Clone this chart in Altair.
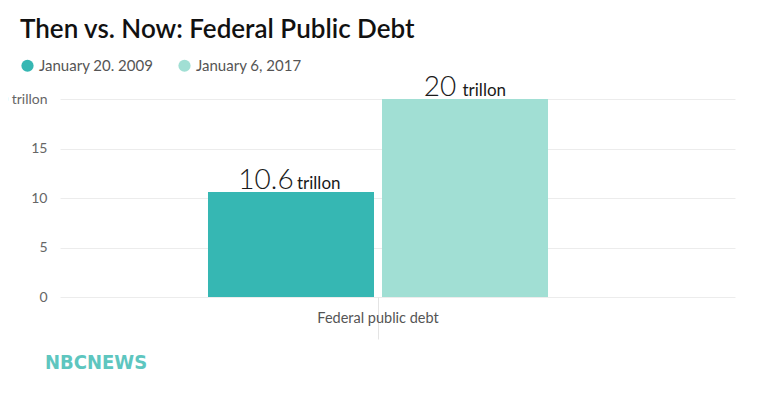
import altair as alt
import pandas as pd

title_text = "Then vs. Now: Federal Public Debt"
category = ["Federal public debt"]
series = ["January 20. 2009", "January 6, 2017"]
values = [10.6, 20]
num_labels = ["10.6", "20"]
unit_label = "trillon"
colors = ["#36b7b3", "#a1dfd4"]
y_ticks = [0, 5, 10, 15, 20]

df = pd.DataFrame({
    "category": category * len(series),
    "series": series,
    "value": values,
    "num": num_labels,
    "unit": [unit_label] * len(series),
})

FONT = "Lato"

x_enc = alt.X(
    "category:N",
    title=None,
    scale=alt.Scale(paddingInner=0, paddingOuter=0.4926, align=0.4418),
    axis=alt.Axis(
        domain=False, grid=False, tickSize=42, tickColor="#e4e4e4", tickWidth=1,
        labelPadding=-21, labelFontSize=14.5, labelColor="#555555", labelFont=FONT,
        labelAngle=0, labelBaseline="middle",
    ),
)
xoff_enc = alt.XOffset("series:N", sort=series, scale=alt.Scale(paddingInner=0.046, paddingOuter=0))
y_enc = alt.Y(
    "value:Q",
    title=None,
    scale=alt.Scale(domain=[0, 20], nice=False),
    axis=alt.Axis(
        values=y_ticks, domain=False, ticks=False, grid=True, gridColor="#ececec",
        labelPadding=13, labelFontSize=14, labelColor="#666666", labelFont=FONT,
        labelExpr="datum.value == 20 ? '20 trillon' : datum.label",
    ),
)

base = alt.Chart(df)

bars = base.mark_bar().encode(
    x=x_enc,
    xOffset=xoff_enc,
    y=y_enc,
    color=alt.Color(
        "series:N",
        sort=series,
        scale=alt.Scale(domain=series, range=colors),
        legend=alt.Legend(
            title=None, orient="none", legendX=-40, legendY=-41, direction="horizontal",
            symbolType="circle", symbolSize=150, symbolStrokeWidth=0, symbolOpacity=1,
            labelFontSize=15, labelColor="#555555", labelFont=FONT, labelOffset=4,
            columnPadding=23,
        ),
    ),
)

num_text = base.mark_text(
    font=FONT, fontSize=28, fontWeight=300, color="#1a1a1a", align="center",
    baseline="alphabetic", dx=-25, dy=-3,
).encode(
    x="category:N", xOffset=xoff_enc, y="value:Q", text="num:N",
)

unit_layers = []
for s, dxv in zip(series, [6, -2.5]):
    unit_layers.append(
        base.transform_filter(alt.datum.series == s).mark_text(
            font=FONT, fontSize=17, color="#1a1a1a", align="left",
            baseline="alphabetic", dx=dxv, dy=-3,
        ).encode(x="category:N", xOffset=xoff_enc, y="value:Q", text="unit:N")
    )

title = alt.Chart(pd.DataFrame({"t": [title_text]})).mark_text(
    font=FONT, fontWeight=600, fontSize=26, color="#111111",
    align="left", baseline="alphabetic",
).encode(x=alt.value(-40), y=alt.value(-61), text="t:N")

logo = alt.Chart(pd.DataFrame({"t": ["NBCNEWS"]})).mark_text(
    font="DejaVu Sans Condensed", fontWeight="bold", fontSize=20, color="#5ec6bf",
    align="left", baseline="middle",
).encode(x=alt.value(-15), y=alt.value(264), text="t:N")

chart = alt.layer(bars, num_text, *unit_layers, title, logo).properties(
    width=675,
    height=198,
    background="white",
    autosize=alt.AutoSizeParams(type="none"),
    padding={"left": 52, "top": 91, "right": 17, "bottom": 90},
).configure_view(stroke=None)

chart.save("out.html", embed_options={"renderer": "svg", "actions": False})
